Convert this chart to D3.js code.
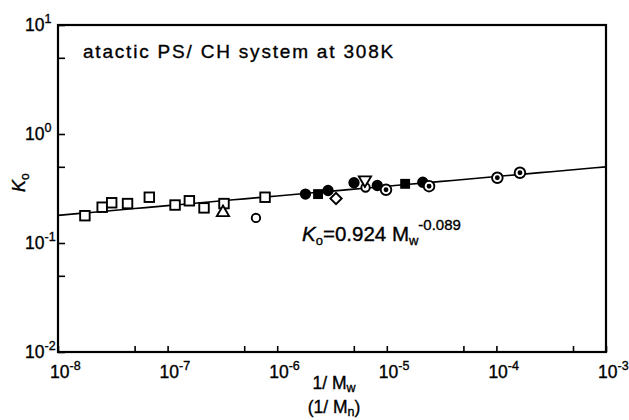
<!DOCTYPE html>
<html><head><meta charset="utf-8">
<script src="https://cdn.jsdelivr.net/npm/d3@7"></script>
<style>
body{margin:0;background:#fff;}
svg{display:block;font-family:"Liberation Sans",Arial,sans-serif;}
text{stroke:#000;stroke-width:0.35px;}
</style></head>
<body><svg id="c" width="629" height="420"></svg>
<script>
// Data: x = 1/Mw, y = K0
const openSquares = [[1.76e-8,0.178],[2.53e-8,0.213],[3.09e-8,0.234],[4.31e-8,0.230],[6.81e-8,0.263],[1.17e-7,0.223],[1.58e-7,0.244],[2.15e-7,0.210],[3.27e-7,0.230],[7.75e-7,0.263]];
const triUp = [[3.2e-7,0.190]];
const openCircles = [[6.4e-7,0.170],[6.4e-6,0.323]];
const filledCircles = [[1.81e-6,0.281],[2.91e-6,0.303],[5.02e-6,0.357],[8.19e-6,0.337],[2.13e-5,0.361]];
const filledSquares = [[2.36e-6,0.281],[1.47e-5,0.349]];
const diamonds = [[3.44e-6,0.256]];
const triDown = [[6.32e-6,0.379]];
const dotCircles = [[9.84e-6,0.308],[2.43e-5,0.332],[1.02e-4,0.397],[1.64e-4,0.441]];
const fitA = 0.924, fitB = 0.089;           // K0 = 0.924 Mw^-0.089
const xDecades = [-8,-7,-6,-5,-4,-3];
const yDecades = [1,0,-1,-2];
const xMinor = [5e-8,5e-7,5e-6,5e-5,5e-4];
const yMinor = [5,0.5,0.05];

const svg = d3.select("#c");
const L=58, R=606, T=25, B=352;
const x = d3.scaleLog().domain([1e-8,1e-3]).range([L,R]);
const y = d3.scaleLog().domain([1e-2,1e1]).range([B,T]);

// ticks (inward)
const ax = svg.append("g").attr("transform",`translate(0,${B})`)
  .call(d3.axisBottom(x).tickValues(xDecades.map(d=>Math.pow(10,d)).concat(xMinor)).tickSize(-6).tickFormat(""));
const ay = svg.append("g").attr("transform",`translate(${L},0)`)
  .call(d3.axisLeft(y).tickValues(yDecades.map(d=>Math.pow(10,d)).concat(yMinor)).tickSize(-7).tickFormat(""));
[ax,ay].forEach(g=>{g.select(".domain").remove();g.selectAll("line").attr("stroke","#000").attr("stroke-width",1.6);});

// frame
svg.append("rect").attr("x",L).attr("y",T).attr("width",R-L).attr("height",B-T)
  .attr("fill","none").attr("stroke","#000").attr("stroke-width",2.2);

// tick labels
const xl = svg.append("g").attr("font-size",17.5).attr("fill","#000");
xDecades.forEach(d=>{
  const t = xl.append("text").attr("x",x(Math.pow(10,d))-8).attr("y",378);
  t.append("tspan").text("10");
  t.append("tspan").attr("font-size",12.5).attr("dy",-8).text("-"+Math.abs(d));
});
yDecades.forEach(d=>{
  const t = xl.append("text").attr("x",25).attr("y",y(Math.pow(10,d))+6);
  t.append("tspan").text("10");
  t.append("tspan").attr("font-size",12.5).attr("dy",-8).text(d<0?"-"+Math.abs(d):String(d));
});

// axis titles
const xt = svg.append("g").attr("font-size",17.5).attr("text-anchor","middle");
const t1 = xt.append("text").attr("x",334).attr("y",389);
t1.append("tspan").text("1/ M");
t1.append("tspan").attr("font-size",12.5).attr("dy",3).text("w");
const t2 = xt.append("text").attr("x",334).attr("y",413);
t2.append("tspan").text("(1/ M");
t2.append("tspan").attr("font-size",12.5).attr("dy",3).text("n");
t2.append("tspan").attr("dy",-3).text(")");
const yt = svg.append("text").attr("transform","translate(25,192) rotate(-90)").attr("font-size",18);
yt.append("tspan").attr("font-style","italic").text("K");
yt.append("tspan").attr("font-size",12).attr("dy",4).text("o");

// title
svg.append("text").attr("x",83).attr("y",58).attr("font-size",19).attr("letter-spacing",1.8).text("atactic PS/ CH system at 308K");

// fit line
const xs = d3.range(-8,-2.99,0.1).map(e=>Math.pow(10,e));
svg.append("path").datum(xs).attr("fill","none").attr("stroke","#000").attr("stroke-width",1.6)
  .attr("d",d3.line().x(d=>x(d)).y(d=>y(fitA*Math.pow(d,fitB))));

// equation
const eq = svg.append("text").attr("x",302).attr("y",241).attr("font-size",20.5);
eq.append("tspan").attr("font-style","italic").text("K");
eq.append("tspan").attr("font-size",13).attr("dy",4).text("o");
eq.append("tspan").attr("dy",-4).text("=0.924 M");
eq.append("tspan").attr("font-size",13).attr("dy",4).text("w");
eq.append("tspan").attr("font-size",15).attr("dy",-15).text("-0.089");

// markers
const g = svg.append("g").attr("stroke","#000").attr("stroke-width",1.9);
const s=9.5;
g.selectAll(".osq").data(openSquares).join("rect").attr("x",d=>x(d[0])-s/2).attr("y",d=>y(d[1])-s/2).attr("width",s).attr("height",s).attr("fill","#fff");
g.selectAll(".fsq").data(filledSquares).join("rect").attr("x",d=>x(d[0])-4).attr("y",d=>y(d[1])-4).attr("width",8).attr("height",8).attr("fill","#000");
g.selectAll(".oc").data(openCircles).join("circle").attr("cx",d=>x(d[0])).attr("cy",d=>y(d[1])).attr("r",4.2).attr("fill","#fff");
g.selectAll(".fc").data(filledCircles).join("circle").attr("cx",d=>x(d[0])).attr("cy",d=>y(d[1])).attr("r",4.7).attr("fill","#000");
g.selectAll(".dc").data(dotCircles).join("circle").attr("cx",d=>x(d[0])).attr("cy",d=>y(d[1])).attr("r",5.3).attr("fill","#fff");
g.selectAll(".dcd").data(dotCircles).join("circle").attr("cx",d=>x(d[0])).attr("cy",d=>y(d[1])).attr("r",1.5).attr("fill","#000");
g.selectAll(".dm").data(diamonds).join("path").attr("fill","#fff")
  .attr("d",d=>d3.symbol(d3.symbolSquare,64)()).attr("transform",d=>`translate(${x(d[0])},${y(d[1])}) rotate(45)`);
g.selectAll(".tu").data(triUp).join("path").attr("fill","#fff")
  .attr("d",d3.symbol(d3.symbolTriangle,64)()).attr("transform",d=>`translate(${x(d[0])},${y(d[1])})`);
g.selectAll(".td").data(triDown).join("path").attr("fill","#fff")
  .attr("d",d3.symbol(d3.symbolTriangle,64)()).attr("transform",d=>`translate(${x(d[0])},${y(d[1])}) rotate(180)`);
</script></body></html>
